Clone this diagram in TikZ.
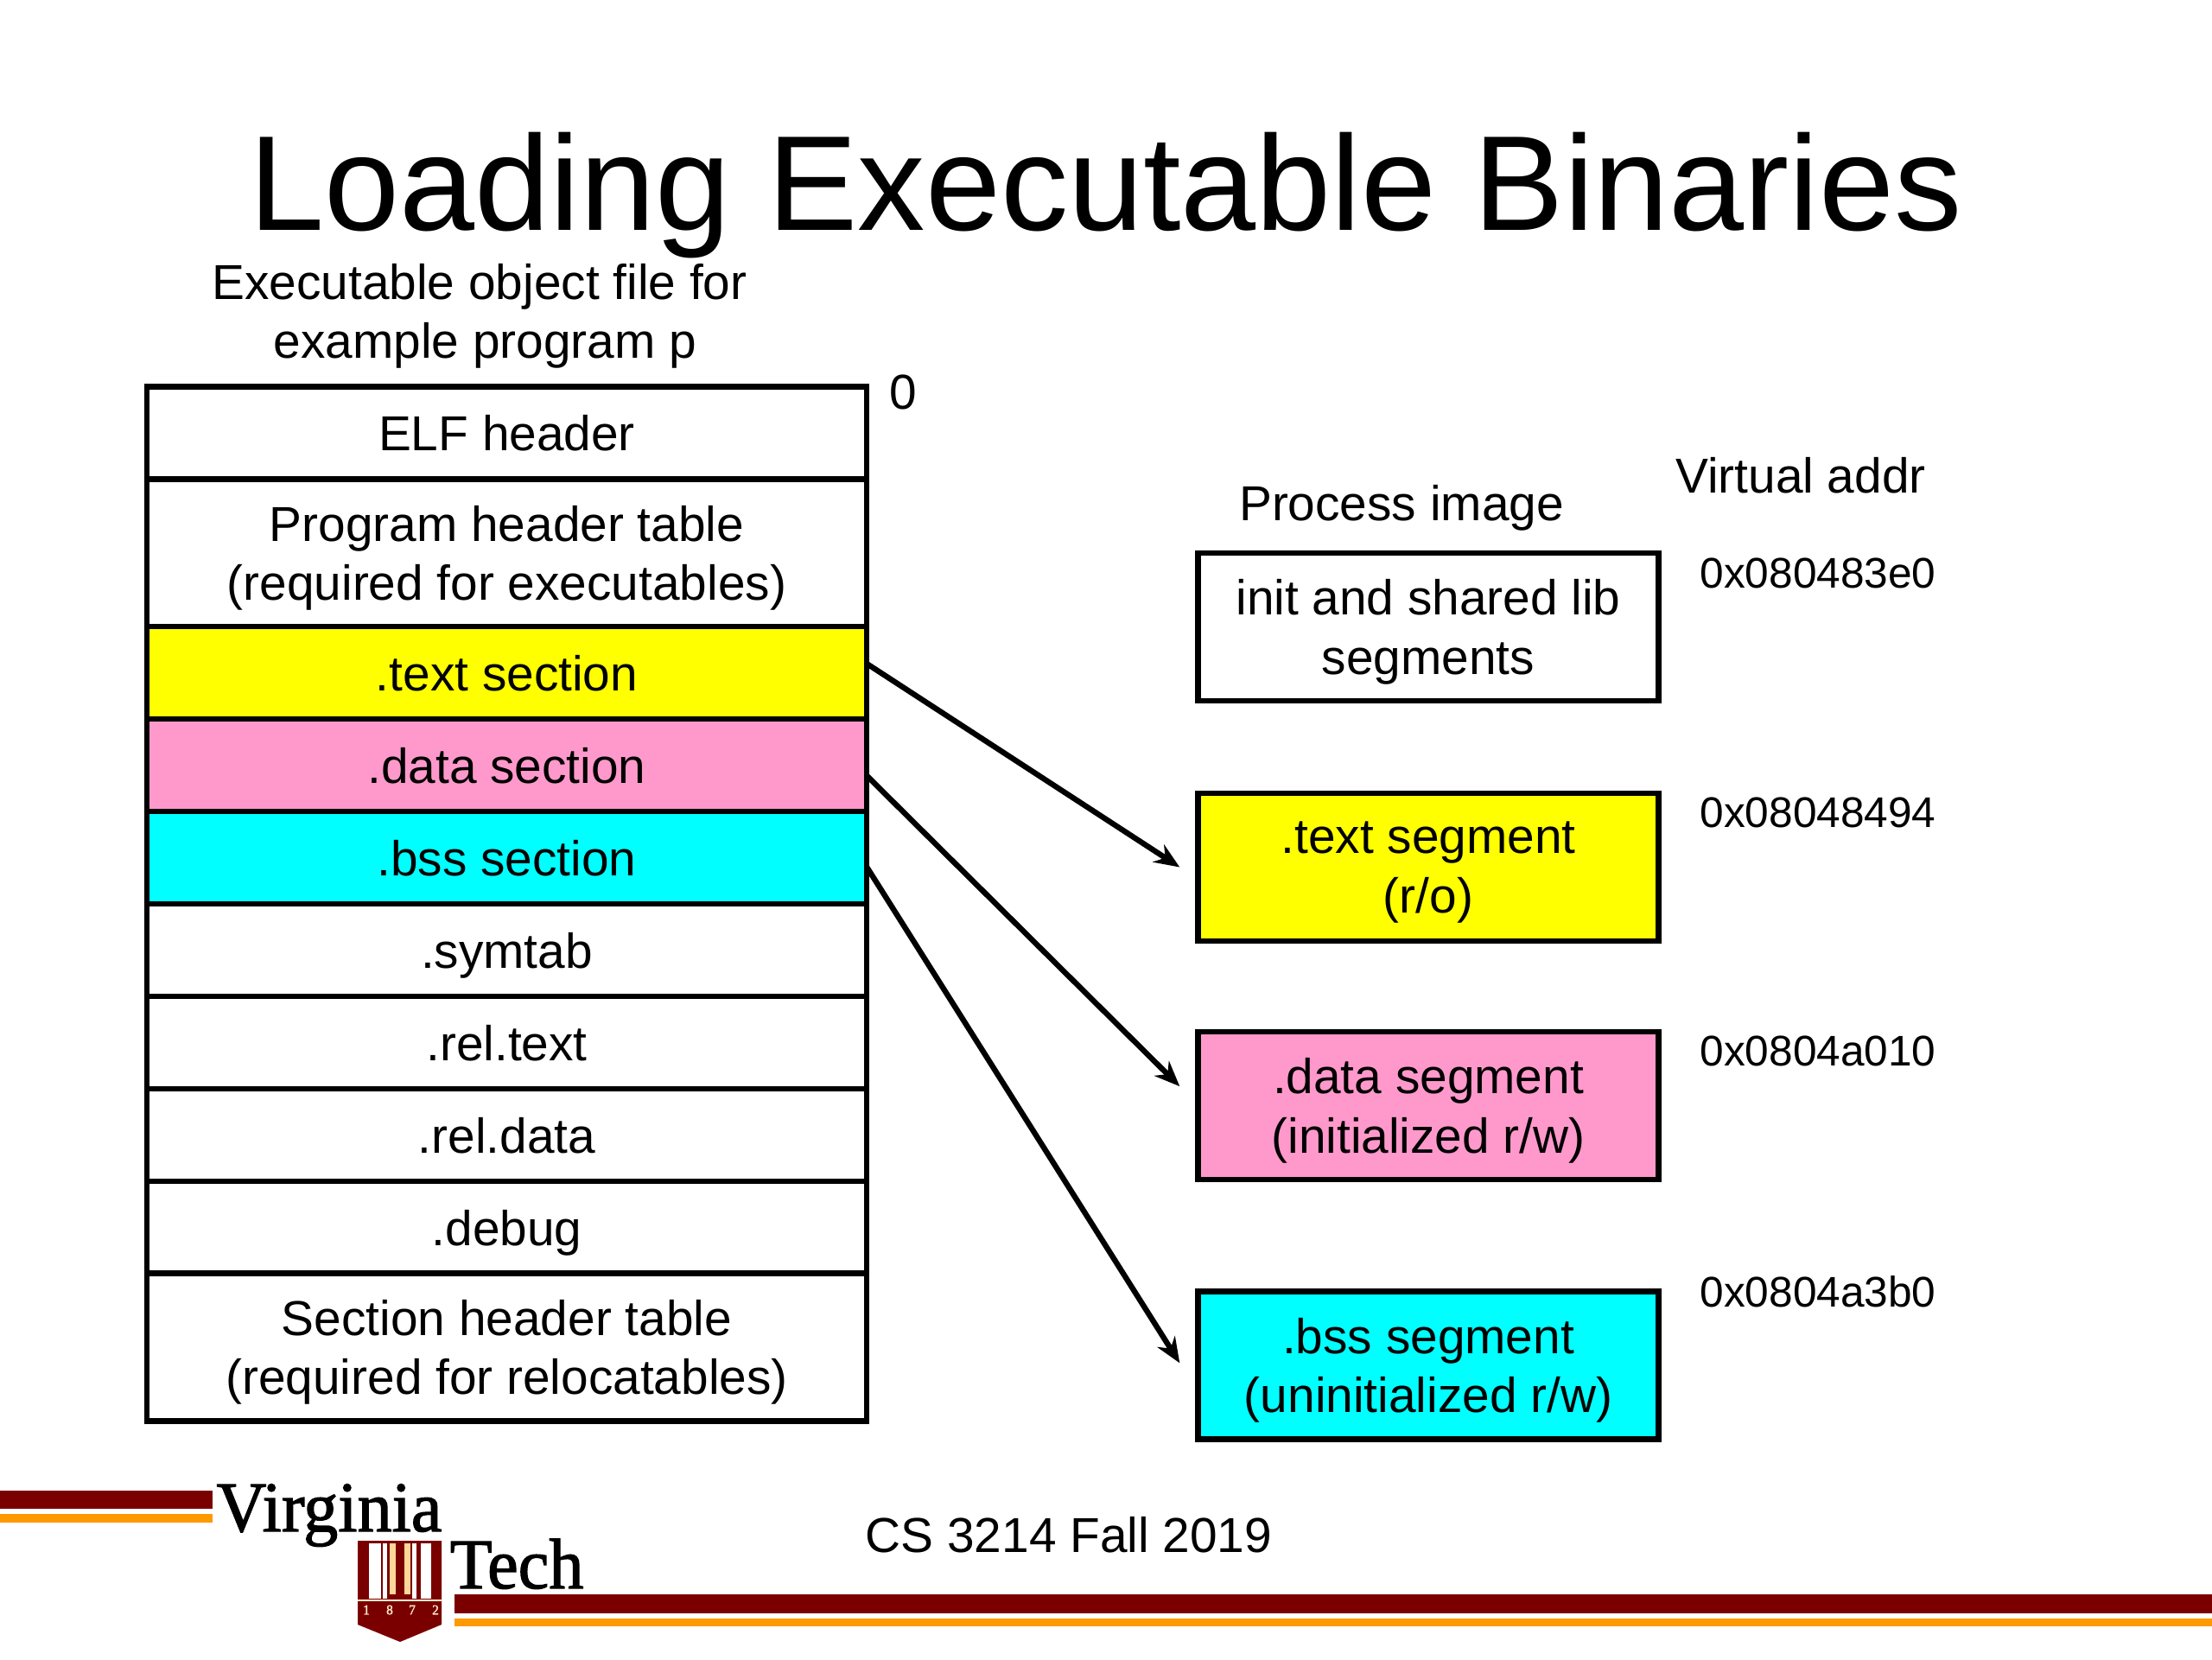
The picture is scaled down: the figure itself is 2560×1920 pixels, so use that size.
\documentclass[tikz,border=0pt]{standalone}
\usepackage{fontspec}
\setmainfont{Liberation Sans}
\newfontfamily\logofont[FakeBold=1.5,FakeStretch=0.97]{Liberation Serif}
\usetikzlibrary{chains,positioning,arrows.meta}

\definecolor{vtmaroon}{HTML}{7A0000}
\definecolor{vtorange}{HTML}{FF9900}
\definecolor{secpink}{HTML}{FF99CC}
\definecolor{seccyan}{HTML}{00FFFF}
\definecolor{secyellow}{HTML}{FFFF00}

\begin{document}
\begin{tikzpicture}[
        x=0.375pt,y=-0.375pt,
        every node/.style={font=\fontsize{21.3}{25.7}\selectfont},
        box/.style={
          draw,
          line width=2.4pt,
          outer sep=0pt,
          inner sep=0pt,
          align=center
        },
        rowsmall/.style={box,minimum width=312.4pt,minimum height=40.1pt,text height=15.6pt,text depth=0pt},
        rowtall/.style={box,minimum width=312.4pt,minimum height=64pt,text depth=0pt},
        segm/.style={box,minimum width=200pt,minimum height=64.2pt,text depth=0pt},
        addr/.style={font=\fontsize{18.6}{22}\selectfont},
        conn/.style={-{Stealth[length=11pt,width=9pt]},line width=2.4pt},
        logotext/.style={font=\logofont\fontsize{31}{31}\selectfont,anchor=base,inner sep=0pt},
        start chain=1 going below,node distance=0pt
        ]
        \useasboundingbox (0,0) rectangle (2560,1920);

        \node[font=\fontsize{58.65}{64}\selectfont,anchor=base] (title) at (1280,266)
          {Loading Executable Binaries};
        \node[align=center] (caption) at (555,366)
          {Executable object file for \\ \hspace*{4.8pt}example program p};

        % file sections
        \node[on chain=1,rowsmall] at (586.5,501) (elf) {ELF header};
        \node[on chain=1,rowtall] (pht)
          {Program header table \\ (required for executables)};
        \node[on chain=1,rowsmall,fill=secyellow] (textsec) {.text section};
        \node[on chain=1,rowsmall,fill=secpink] (datasec) {.data section};
        \node[on chain=1,rowsmall,fill=seccyan] (bsssec) {.bss section};
        \node[on chain=1,rowsmall] (symtab) {.symtab};
        \node[on chain=1,rowsmall] (reltext) {.rel.text};
        \node[on chain=1,rowsmall] (reldata) {.rel.data};
        \node[on chain=1,rowsmall] (debug) {.debug};
        \node[on chain=1,rowtall] (sht)
          {Section header table \\ (required for relocatables)};
        \node (zero) at (1045,454) {0};

        % process image
        \node (procimg) at (1622,588) {Process image};
        \node (virt) at (2084,550) {Virtual addr};
        \node[segm] (initseg) at (1653,725.5) {init and shared lib \\ segments};
        \node[segm,fill=secyellow] (textseg) at (1653,1003.5) {.text segment \\ (r/o)};
        \node[segm,fill=secpink] (dataseg) at (1653,1279.5) {.data segment \\ (initialized r/w)};
        \node[segm,fill=seccyan] (bssseg) at (1653,1580) {.bss segment \\ (uninitialized r/w)};
        \node[addr] (addr1) at (2104,663) {0x080483e0};
        \node[addr] (addr2) at (2104,940) {0x08048494};
        \node[addr] (addr3) at (2104,1216) {0x0804a010};
        \node[addr] (addr4) at (2104,1495) {0x0804a3b0};

        \draw[conn] ([yshift=4pt]textsec.east) -- ([xshift=-7.9pt]textseg.west);
        \draw[conn] ([yshift=-4.5pt]datasec.east) -- ([xshift=-7.9pt,yshift=8.4pt]dataseg.west);
        \draw[conn] ([yshift=-4pt]bsssec.east) -- ([xshift=-7.9pt,yshift=1pt]bssseg.west);

        % footer
        \node (course) at (1237,1776) {CS 3214 Fall 2019};
        \fill[vtmaroon] (0,1725) rectangle (246,1746);
        \fill[vtorange] (0,1752) rectangle (246,1762);
        \fill[vtmaroon] (526,1845) rectangle (2560,1867);
        \fill[vtorange] (526,1873) rectangle (2560,1882);
        \node[logotext] (virginia) at (381,1772) {Virginia};
        \node[logotext] (tech) at (598,1838) {Tech};

        % shield
        \fill[vtmaroon] (414,1783) -- (511,1783) -- (511,1880) -- (463,1900) -- (414,1880) -- cycle;
        \foreach \xa/\xb in {427/441,443/448,477/482,487/499}
          \fill[white] (\xa,1786) rectangle (\xb,1850);
        \foreach \xa/\xb in {451/458,468/475}
          \fill[vtorange!40!white] (\xa,1786) rectangle (\xb,1845);
        \draw[white!80!vtorange,line width=0.5pt] (414,1852) -- (511,1852);
        \foreach \xa/\yr in {424/1,451/8,477/7,504/2}
          \node[font=\logofont\fontsize{6}{6}\selectfont,text=white!80!vtorange,inner sep=0pt] at (\xa,1863) {\yr};
\end{tikzpicture}
\end{document}
